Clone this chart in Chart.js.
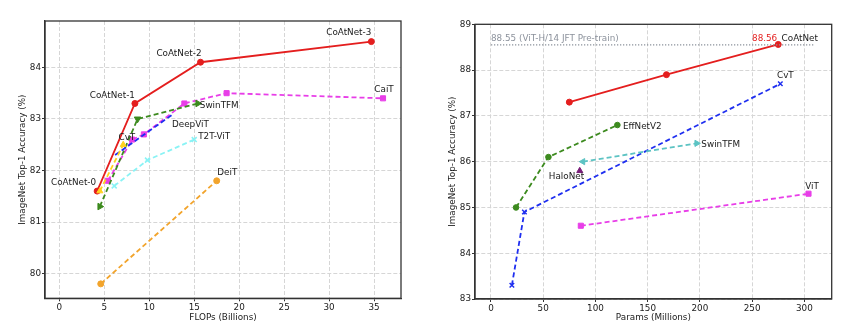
<!DOCTYPE html>
<html>
<head>
<meta charset="utf-8">
<script src="https://cdn.jsdelivr.net/npm/chart.js@4.4.0/dist/chart.umd.min.js"></script>
<style>
  body { margin: 0; background: #fff; }
  #wrap { position: relative; width: 849px; height: 332px; }
  canvas { position: absolute; top: 0; }
</style>
</head>
<body>
<div id="wrap">
  <canvas id="flopsChart" width="420" height="332" style="left:0;width:420px;height:332px"></canvas>
  <canvas id="paramsChart" width="429" height="332" style="left:420px;width:429px;height:332px"></canvas>
</div>
<script>
// ---- accuracy vs FLOPs ----
const flopsTicks = [0, 5, 10, 15, 20, 25, 30, 35];
const flopsAccTicks = [80, 81, 82, 83, 84];

const coatnetFlops = [4.2, 8.4, 15.7, 34.7];
const coatnetFlopsAcc = [81.6, 83.3, 84.1, 84.5];
const caitFlops = [5.4, 8.1, 9.4, 13.9, 18.6, 36.0];
const caitAcc = [81.8, 82.6, 82.7, 83.3, 83.5, 83.4];
const deepvitFlops = [6.2, 12.7];
const deepvitAcc = [82.3, 83.1];
const swinFlops = [4.5, 8.7, 15.4];
const swinFlopsAcc = [81.3, 83.0, 83.3];
const cvtFlops = [4.5, 7.1];
const cvtFlopsAcc = [81.6, 82.5];
const t2tFlops = [6.1, 9.8, 15.0];
const t2tAcc = [81.7, 82.2, 82.6];
const deitFlops = [4.6, 17.5];
const deitAcc = [79.8, 81.8];

// ---- accuracy vs params ----
const paramsTicks = [0, 50, 100, 150, 200, 250, 300];
const paramsAccTicks = [83, 84, 85, 86, 87, 88, 89];

const coatnetParams = [75, 168, 275];
const coatnetParamsAcc = [87.3, 87.9, 88.56];
const cvtParams = [20, 32, 277];
const cvtParamsAcc = [83.3, 84.9, 87.7];
const effnetParams = [24, 55, 121];
const effnetAcc = [85.0, 86.1, 86.8];
const swinParams = [88, 197];
const swinParamsAcc = [86.0, 86.4];
const haloParams = [85];
const haloAcc = [85.8];
const vitParams = [86, 304];
const vitAcc = [84.6, 85.3];
const jftRefParams = [0, 310];
const jftRefAcc = [88.55, 88.55];

const FONT_FAMILY = "'DejaVu Sans', sans-serif";
const FONT_SIZE = 8.8;
const TEXT = '#1a1a1a';

Chart.defaults.font.family = FONT_FAMILY;
Chart.defaults.font.size = FONT_SIZE;
Chart.defaults.color = TEXT;

function pts(xs, ys) {
  return xs.map((x, i) => ({ x: x, y: ys[i] }));
}

function series(xs, ys, color, style) {
  return Object.assign({
    data: pts(xs, ys),
    showLine: true,
    borderColor: color,
    backgroundColor: color,
    pointBackgroundColor: color,
    pointBorderColor: color,
    borderWidth: 1.8,
    borderDash: [5, 3],
    pointRadius: 3,
    pointBorderWidth: 1,
    pointStyle: 'circle',
    tension: 0
  }, style || {});
}

// text next to the points
const pointLabels = {
  id: 'pointLabels',
  afterDatasetsDraw(chart, args, opts) {
    const ctx = chart.ctx;
    const sx = chart.scales.x, sy = chart.scales.y;
    ctx.save();
    ctx.font = FONT_SIZE + 'px ' + FONT_FAMILY;
    ctx.textBaseline = 'middle';
    (opts.items || []).forEach(l => {
      ctx.fillStyle = l.color || TEXT;
      ctx.textAlign = l.align || 'left';
      ctx.fillText(l.text, sx.getPixelForValue(l.x) + l.dx, sy.getPixelForValue(l.y) + l.dy);
    });
    ctx.restore();
  }
};

// closed box round the plot area
const frame = {
  id: 'frame',
  afterDraw(chart) {
    const a = chart.chartArea, ctx = chart.ctx;
    ctx.save();
    ctx.strokeStyle = '#333';
    ctx.lineWidth = 1.3;
    ctx.strokeRect(a.left, a.top, a.right - a.left, a.bottom - a.top);
    ctx.restore();
  }
};

function axis(opts) {
  return {
    type: 'linear',
    min: opts.min,
    max: opts.max,
    afterBuildTicks: s => { s.ticks = opts.ticks.map(v => ({ value: v })); },
    afterFit: s => {
      if (opts.width) s.width = opts.width;
      if (opts.height) s.height = opts.height;
    },
    grid: { color: '#d6d6d6', lineWidth: 1, tickColor: '#333', tickLength: 3, tickWidth: 1 },
    border: { display: true, color: '#333', width: 1.3, dash: [4, 2] },
    ticks: { padding: 1, color: TEXT, font: { size: FONT_SIZE } },
    title: { display: true, text: opts.title, color: TEXT, padding: opts.titlePad, font: { size: FONT_SIZE } }
  };
}

function makeChart(id, datasets, scales, layout, labels) {
  return new Chart(document.getElementById(id), {
    type: 'scatter',
    data: { datasets: datasets },
    options: {
      responsive: false,
      animation: false,
      layout: { padding: layout },
      scales: scales,
      plugins: {
        legend: { display: false },
        tooltip: { enabled: false },
        pointLabels: { items: labels }
      }
    },
    plugins: [pointLabels, frame]
  });
}

makeChart('flopsChart', [
  series(deitFlops, deitAcc, '#f2a42c', { pointRadius: 3 }),
  series(t2tFlops, t2tAcc, '#8af3f5', { pointStyle: 'crossRot', pointRadius: 3.5, pointBorderWidth: 1.6 }),
  series(cvtFlops, cvtFlopsAcc, '#ffd21f', { pointStyle: 'triangle', pointRadius: 3.5 }),
  series(deepvitFlops, deepvitAcc, '#1f2ff0', { pointRadius: 0 }),
  series(swinFlops, swinFlopsAcc, '#3c8a1e', { pointStyle: 'triangle', pointRadius: 3.8, rotation: [210, 180, 90] }),
  series(caitFlops, caitAcc, '#e83ee8', { pointStyle: 'rect', pointRadius: 3.6 }),
  series(coatnetFlops, coatnetFlopsAcc, '#e41e1e', { borderDash: [], pointRadius: 3 })
], {
  x: axis({ min: -1.6, max: 38, ticks: flopsTicks, title: 'FLOPs (Billions)', height: 33.7, titlePad: { top: 0, bottom: 9.4 } }),
  y: axis({ min: 79.52, max: 84.9, ticks: flopsAccTicks, title: 'ImageNet Top-1 Accuracy (%)', width: 45, titlePad: { top: 17.7, bottom: 0 } })
}, { left: 0, right: 19, top: 21, bottom: 0 }, [
  { text: 'CoAtNet-0', x: coatnetFlops[0], y: coatnetFlopsAcc[0], dx: -1, dy: -8, align: 'right' },
  { text: 'CoAtNet-1', x: coatnetFlops[1], y: coatnetFlopsAcc[1], dx: 0, dy: -8, align: 'right' },
  { text: 'CoAtNet-2', x: coatnetFlops[2], y: coatnetFlopsAcc[2], dx: 1, dy: -9, align: 'right' },
  { text: 'CoAtNet-3', x: coatnetFlops[3], y: coatnetFlopsAcc[3], dx: 0, dy: -9, align: 'right' },
  { text: 'CaiT', x: caitFlops[5], y: caitAcc[5], dx: 1, dy: -8.5, align: 'center' },
  { text: 'SwinTFM', x: swinFlops[2], y: swinFlopsAcc[2], dx: 2, dy: 2 },
  { text: 'DeepViT', x: deepvitFlops[1], y: deepvitAcc[1], dx: -1.6, dy: 10.7 },
  { text: 'CvT', x: cvtFlops[1], y: cvtFlopsAcc[1], dx: -4.7, dy: -7.3 },
  { text: 'T2T-ViT', x: t2tFlops[2], y: t2tAcc[2], dx: 4, dy: -3 },
  { text: 'DeiT', x: deitFlops[1], y: deitAcc[1], dx: 0.6, dy: -8.4 }
]);

makeChart('paramsChart', [
  series(jftRefParams, jftRefAcc, '#8c929c', { borderDash: [1.3, 1.7], borderWidth: 1.3, pointRadius: 0 }),
  series(vitParams, vitAcc, '#e83ee8', { pointStyle: 'rect', pointRadius: 3.6 }),
  series(haloParams, haloAcc, '#7a1f7a', { pointStyle: 'triangle', pointRadius: 3.5 }),
  series(swinParams, swinParamsAcc, '#5cc3c3', { pointStyle: 'triangle', pointRadius: 3.6, rotation: [270, 90] }),
  series(cvtParams, cvtParamsAcc, '#1f2ff0', { pointStyle: 'crossRot', pointRadius: 3.2, pointBorderWidth: 1.5 }),
  series(effnetParams, effnetAcc, '#3c8a1e', { pointRadius: 2.8 }),
  series(coatnetParams, coatnetParamsAcc, '#e41e1e', { borderDash: [], pointRadius: 3 })
], {
  x: axis({ min: -15.3, max: 326.2, ticks: paramsTicks, title: 'Params (Millions)', height: 33, titlePad: { top: 0, bottom: 9.4 } }),
  y: axis({ min: 83, max: 89, ticks: paramsAccTicks, title: 'ImageNet Top-1 Accuracy (%)', width: 55, titlePad: { top: 27, bottom: 0 } })
}, { left: 0, right: 17.3, top: 24.3, bottom: 0 }, [
  { text: '88.55 (ViT-H/14 JFT Pre-train)', x: jftRefParams[0], y: jftRefAcc[0], dx: 0, dy: -6, color: '#8c929c' },
  { text: '88.56', x: coatnetParams[2], y: coatnetParamsAcc[2], dx: -1, dy: -6, align: 'right', color: '#e41e1e' },
  { text: 'CoAtNet', x: coatnetParams[2], y: coatnetParamsAcc[2], dx: 3.4, dy: -6 },
  { text: 'CvT', x: cvtParams[2], y: cvtParamsAcc[2], dx: -3.3, dy: -7.7 },
  { text: 'EffNetV2', x: effnetParams[2], y: effnetAcc[2], dx: 5.6, dy: 1.7 },
  { text: 'SwinTFM', x: swinParams[1], y: swinParamsAcc[1], dx: 4.6, dy: 1.4 },
  { text: 'HaloNet', x: haloParams[0], y: haloAcc[0], dx: -13.3, dy: 6, align: 'center' },
  { text: 'ViT', x: vitParams[1], y: vitAcc[1], dx: -3.3, dy: -7.3 }
]);
</script>
</body>
</html>
